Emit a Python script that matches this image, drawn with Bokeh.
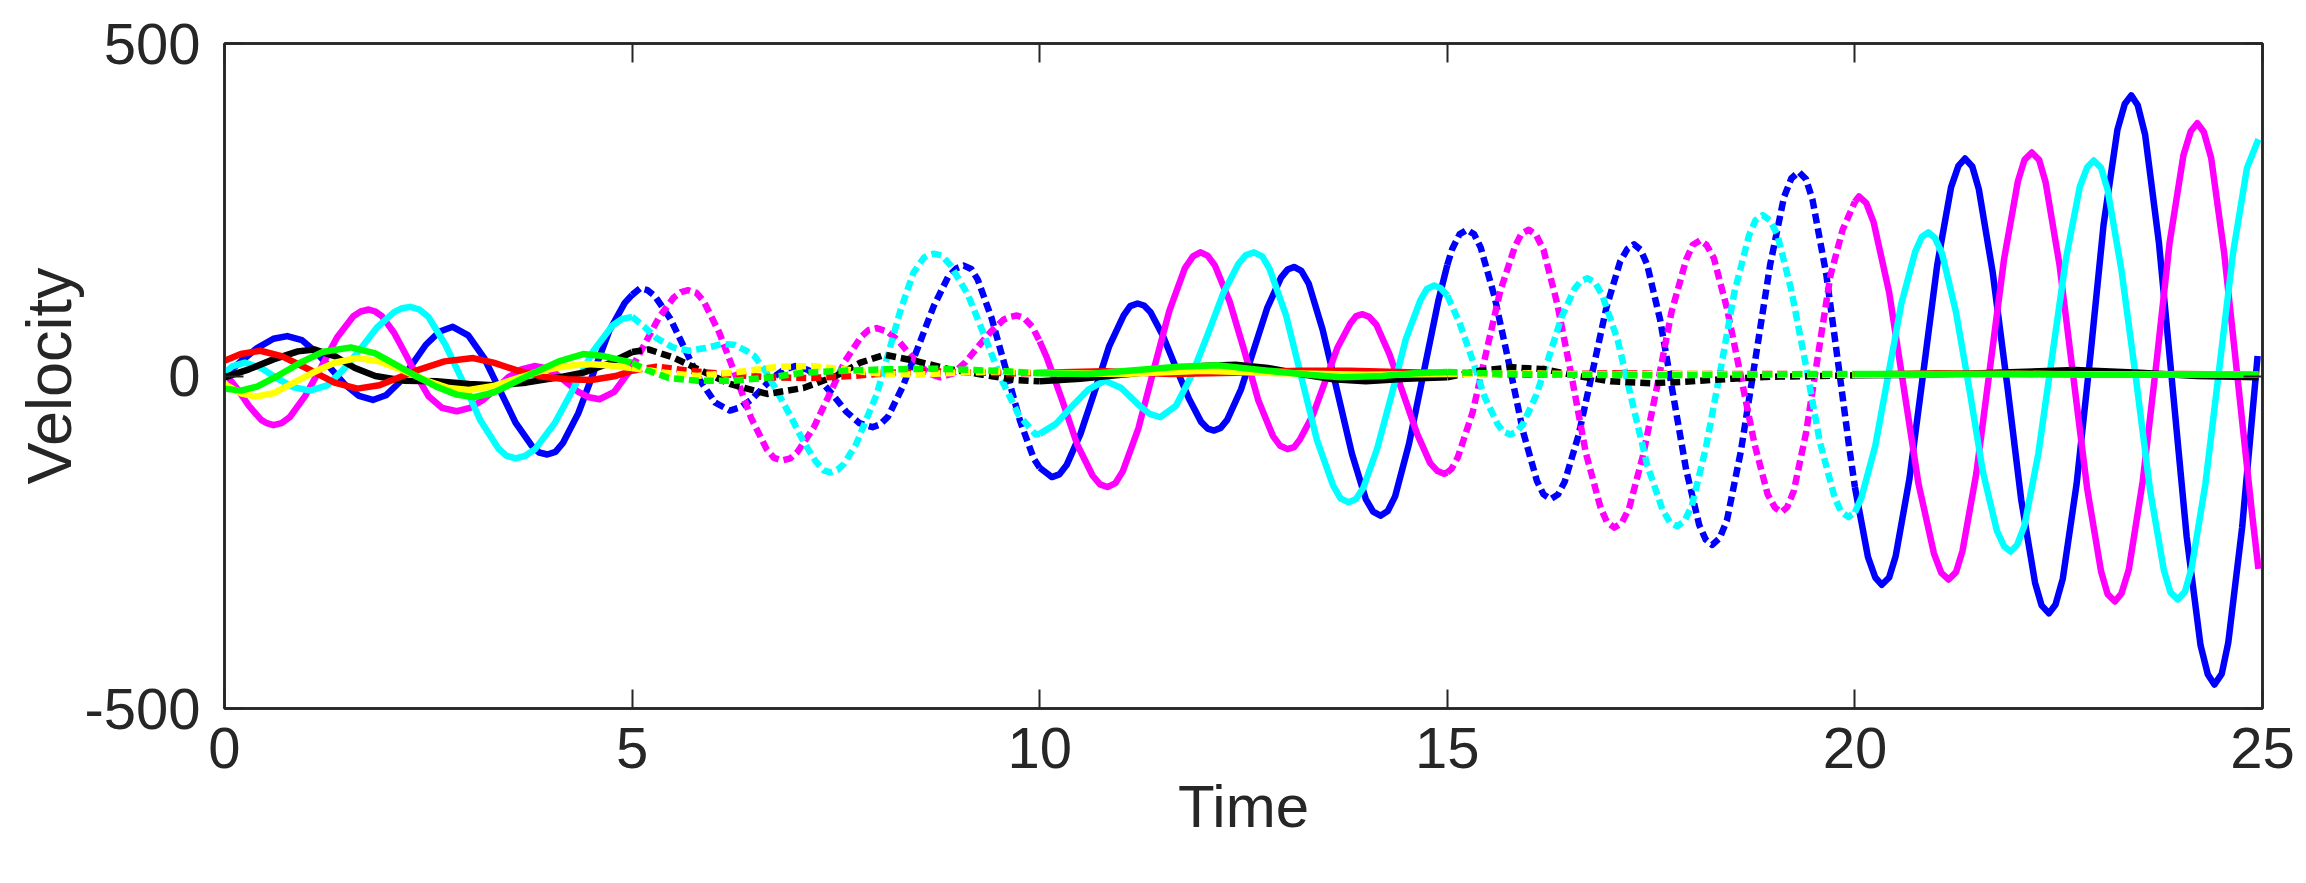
from bokeh.plotting import figure
from bokeh.models import Range1d, LinearAxis, FixedTicker
from bokeh.embed import file_html
from bokeh.resources import INLINE

# ---------------- data ----------------
x_ticks = [0, 5, 10, 15, 20, 25]
y_ticks = [-500, 0, 500]
segment_edges = [0, 5, 10, 15, 20, 25]   # solid / dashed / solid / dashed / solid

blue_t = [0.00, 0.20, 0.40, 0.60, 0.77, 0.95, 1.12, 1.30, 1.47, 1.65, 1.82, 1.98, 2.15, 2.31, 2.47, 2.64, 2.80,
          2.99, 3.19, 3.38, 3.57, 3.77, 3.96, 4.15, 4.34, 4.53, 4.72, 4.91, 5.00,
          5.10, 5.28, 5.47, 5.65, 5.83, 6.02, 6.20, 6.33, 6.47, 6.73, 6.87, 7.00, 7.16, 7.32, 7.48, 7.63,
          7.79, 7.95, 8.14, 8.32, 8.51, 8.70, 8.88, 9.07, 9.24, 9.41, 9.59, 9.76, 9.93, 10.00,
          10.15, 10.33, 10.50, 10.68, 10.85, 11.03, 11.20, 11.36, 11.51, 11.67, 11.83, 11.98, 12.14,
          12.30, 12.47, 12.63, 12.79, 12.96, 13.12, 13.30, 13.47, 13.65, 13.83, 14.00, 14.18, 14.36,
          14.53, 14.71, 14.89, 15.00,
          15.06, 15.24, 15.41, 15.58, 15.76, 15.93, 16.10, 16.27, 16.44, 16.61, 16.78, 16.95, 17.12,
          17.29, 17.45, 17.61, 17.77, 17.93, 18.09, 18.25, 18.43, 18.60, 18.78, 18.96, 19.13, 19.31,
          19.48, 19.65, 19.82, 19.93, 20.00,
          20.16, 20.33, 20.50, 20.67, 20.84, 21.01, 21.18, 21.35, 21.52, 21.69, 21.87, 22.04, 22.21,
          22.38, 22.55, 22.72, 22.89, 23.05, 23.22, 23.39, 23.56, 23.73, 23.90, 24.07, 24.24, 24.41,
          24.58, 24.75, 24.94]
blue_v = [0, 22, 42, 56, 60, 54, 36, 12, -12, -30, -36, -29, -9, 19, 47, 67, 74,
          61, 26, -22, -70, -105, -118, -101, -56, 6, 68, 110, 122,
          132, 120, 86, 40, -6, -40, -52, -47, -35, -2, 10, 15, 9, -8, -31, -54,
          -71, -77, -61, -16, 44, 105, 150, 166, 145, 87, 8, -68, -125, -138,
          -152, -134, -87, -21, 44, 91, 109, 96, 61, 13, -34, -69, -82,
          -66, -20, 41, 102, 148, 164, 139, 70, -23, -117, -185, -210, -181,
          -102, 5, 113, 167,
          191, 220, 193, 119, 17, -84, -158, -185, -159, -89, 6, 102, 172,
          198, 168, 85, -28, -141, -224, -254, -217, -114, 26, 167, 269, 307,
          265, 152, -4, -107, -167,
          -272, -314, -271, -154, 6, 167, 284, 327, 281, 156, -15, -186, -311,
          -357, -305, -162, 32, 227, 370, 422, 363, 200, -21, -242, -405, -464,
          -401, -228, 30]
# points read on the shoulders of each crest / trough
blue_crest_t = [3.86, 4.06, 5.19, 8.04, 8.98, 9.16, 10.24, 11.11, 11.28, 12.06, 12.22, 13.04, 13.21,
                14.09, 14.27, 15.15, 15.33, 16.18, 16.36, 17.21, 17.37, 18.17, 18.34, 19.22, 19.40,
                20.25, 20.42, 21.27, 21.44, 22.29, 22.46, 23.31, 23.47, 24.33, 24.50]
blue_crest_v = [-115, -114, 129, -73, 162, 161, -148, 105, 106, -79, -78, 160, 158,
                -204, -203, 213, 213, -178, -178, 191, 190, -246, -244, 297, 296,
                -303, -303, 316, 315, -345, -344, 409, 407, -449, -448]

magenta_t = [0.00, 0.15, 0.30, 0.45, 0.60, 0.80, 0.99, 1.19, 1.38, 1.58, 1.77, 1.93, 2.08, 2.22, 2.36, 2.50,
             2.67, 2.85, 3.01, 3.17, 3.33, 3.48, 3.64, 3.80, 3.93, 4.07, 4.20, 4.33, 4.47, 4.60, 4.78,
             4.96, 5.00,
             5.15, 5.33, 5.51, 5.69, 5.88, 6.07, 6.27, 6.46, 6.65, 6.84, 7.03, 7.23, 7.42, 7.61, 7.81,
             8.00, 8.13, 8.26, 8.39, 8.52, 8.65, 8.78, 8.94, 9.09, 9.25, 9.41, 9.56, 9.72, 9.91, 10.00,
             10.09, 10.28, 10.46, 10.65, 10.83, 11.02, 11.21, 11.40, 11.59, 11.78, 11.97, 12.15, 12.33,
             12.51, 12.68, 12.86, 13.04, 13.19, 13.35, 13.50, 13.65, 13.81, 13.96, 14.13, 14.29, 14.46,
             14.63, 14.79, 14.96, 15.00,
             15.13, 15.31, 15.48, 15.65, 15.83, 16.00, 16.18, 16.35, 16.53, 16.70, 16.88, 17.05, 17.23,
             17.40, 17.58, 17.75, 17.93, 18.10, 18.27, 18.43, 18.60, 18.77, 18.93, 19.10, 19.25, 19.40,
             19.55, 19.70, 19.85, 20.00,
             20.05, 20.23, 20.42, 20.60, 20.78, 20.97, 21.15, 21.32, 21.49, 21.66, 21.83, 22.00, 22.17,
             22.34, 22.51, 22.68, 22.85, 23.02, 23.19, 23.36, 23.53, 23.70, 23.86, 24.03, 24.20, 24.37,
             24.53, 24.70, 24.87, 24.95]
magenta_v = [5, -18, -45, -66, -74, -62, -30, 14, 58, 90, 100, 90, 65, 33, 0, -30,
             -48, -53, -48, -36, -19, -2, 10, 15, 12, 3, -10, -23, -32, -35, -24,
             6, 13,
             47, 88, 118, 129, 112, 65, 1, -63, -110, -127, -114, -77, -28, 22, 59,
             72, 67, 54, 35, 17, 3, -2, 4, 21, 45, 68, 85, 91, 74, 52,
             27, -38, -103, -150, -167, -143, -79, 10, 98, 162, 186, 166, 112,
             38, -36, -90, -110, -96, -59, -9, 42, 79, 93, 77, 33, -27,
             -87, -131, -147, -145,
             -122, -55, 37, 128, 195, 220, 190, 108, -4, -116, -198, -228, -199,
             -120, -12, 96, 175, 204, 177, 102, 0, -103, -178, -205, -173, -86,
             33, 151, 220, 262,
             270, 231, 126, -18, -162, -267, -306, -263, -146, 15, 176, 293, 336,
             291, 167, -2, -170, -294, -339, -291, -159, 21, 200, 332, 380, 328,
             185, -10, -205, -290]
magenta_crest_t = [0.52, 0.70, 1.67, 1.85, 5.60, 5.79, 6.74, 6.94, 7.90, 9.64, 9.81, 10.74, 10.93,
                   11.88, 12.06, 12.95, 13.12, 13.88, 14.04, 14.88, 15.05, 15.91, 16.09, 16.96, 17.14,
                   18.01, 18.18, 19.02, 19.17, 20.14, 21.06, 21.24, 22.08, 22.26, 23.10, 23.27,
                   24.12, 24.28]
magenta_crest_v = [-71, -71, 97, 97, 126, 125, -123, -124, 69, 89, 87, -163, -161,
                   180, 181, -105, -107, 90, 89, -143, -140, 214, 212, -220, -221,
                   197, 197, -198, -197, 260, -296, -295, 325, 325, -328, -327,
                   368, 367]

cyan_t = [0.00, 0.10, 0.25, 0.45, 0.65, 0.85, 1.05, 1.26, 1.46, 1.67, 1.87, 2.08, 2.28, 2.50, 2.71, 2.93,
          3.14, 3.36, 3.57, 3.81, 4.05, 4.29, 4.52, 4.76, 5.00,
          5.15, 5.30, 5.50, 5.70, 5.90, 6.10, 6.25, 6.40, 6.50, 6.65, 6.80, 6.95, 7.10, 7.25, 7.43,
          7.60, 7.75, 7.90, 8.00, 8.13, 8.29, 8.45, 8.58, 8.70, 8.91, 9.12, 9.33, 9.53, 9.74, 9.95, 10.00,
          10.20, 10.40, 10.60, 10.80, 11.00, 11.20, 11.35, 11.48, 11.67, 11.86, 12.06, 12.25, 12.44,
          12.63, 12.82, 13.02, 13.21, 13.40, 13.60, 13.79, 13.97, 14.14, 14.32, 14.49, 14.67, 14.84, 15.00,
          15.15, 15.31, 15.46, 15.62, 15.77, 15.93, 16.09, 16.25, 16.40, 16.56, 16.72, 16.90, 17.09,
          17.27, 17.45, 17.64, 17.82, 18.00, 18.17, 18.35, 18.52, 18.70, 18.87, 19.05, 19.22, 19.40,
          19.57, 19.75, 19.92, 20.00,
          20.08, 20.25, 20.41, 20.57, 20.74, 20.90, 21.07, 21.24, 21.41, 21.57, 21.74, 21.91, 22.08,
          22.25, 22.42, 22.59, 22.76, 22.93, 23.10, 23.27, 23.45, 23.62, 23.79, 23.96, 24.13, 24.30,
          24.47, 24.64, 24.81, 24.95]
cyan_v = [5, 15, 20, 12, -4, -17, -22, -14, 10, 41, 73, 96, 104, 89, 47, -10,
          -67, -109, -124, -110, -71, -17, 37, 76, 89,
          74, 57, 43, 38, 42, 48, 47, 38, 30, 5, -28, -62, -98, -128, -145,
          -132, -102, -57, -28, 28, 98, 155, 178, 184, 166, 122, 58, -5, -58, -88, -87,
          -72, -45, -20, -7, -18, -42, -57, -62, -45, 0, 62, 124, 169,
          186, 161, 92, -2, -96, -165, -190, -168, -109, -27, 55, 114, 136, 121,
          80, 24, -32, -73, -88, -72, -29, 30, 88, 131, 147, 122, 54,
          -40, -133, -201, -226, -195, -109, 8, 125, 211, 242, 212, 129, 15,
          -99, -182, -212, -205,
          -183, -105, 2, 109, 187, 216, 184, 96, -24, -144, -232, -264, -225,
          -117, 30, 177, 285, 324, 280, 159, -6, -171, -292, -336, -289, -162,
          12, 186, 313, 356]
cyan_crest_t = [2.18, 2.39, 3.46, 3.69, 4.88, 7.35, 7.52, 8.64, 8.80, 12.53, 12.73, 13.69, 13.88,
                14.75, 14.92, 15.69, 15.85, 16.64, 16.81, 17.73, 17.91, 18.78, 18.96, 19.83,
                20.82, 20.98, 21.83, 21.99, 22.85, 23.02, 23.87, 24.05]
cyan_crest_v = [102, 100, -120, -120, 86, -142, -141, 182, 181, 182, 180, -184, -185,
                131, 132, -84, -84, 143, 141, -220, -218, 234, 234, -204,
                209, 208, -256, -254, 314, 313, -325, -324]

black_t = [0.0, 0.3, 0.6, 0.9, 1.1, 1.35, 1.6, 1.85, 2.2, 2.6, 3.0, 3.3, 3.7, 4.1, 4.4, 4.7, 5.0,
           5.2, 5.5, 5.85, 6.2, 6.66, 7.1, 7.5, 7.8, 8.1, 8.5, 8.9, 9.3, 9.7, 10.0,
           10.5, 11.0, 11.5, 12.0, 12.4, 12.8, 13.2, 13.6, 14.0, 14.5, 15.0,
           15.4, 15.8, 16.2, 16.6, 17.0, 17.5, 18.0, 18.5, 19.0, 19.5, 20.0,
           21.0, 22.0, 22.7, 23.5, 24.2, 24.95]
black_v = [-2, 10, 25, 37, 40, 30, 12, 0, -7, -8, -12, -14, -10, -2, 5, 18, 36,
           40, 28, 8, -12, -27, -18, 0, 20, 32, 22, 10, 2, -6, -8,
           -4, 2, 8, 15, 17, 12, 3, -5, -8, -4, -2,
           8, 13, 10, 0, -8, -11, -8, -4, -1, 0, 1,
           2, 6, 9, 5, 0, -2]

red_t = [0.0, 0.2, 0.44, 0.7, 0.9, 1.1, 1.35, 1.63, 1.9, 2.1, 2.35, 2.7, 3.05, 3.3, 3.6, 3.9, 4.2, 4.5,
         4.8, 5.0, 5.3, 5.7, 6.2, 6.7, 7.2, 7.7, 8.2, 8.7, 9.2, 9.7, 10.0,
         10.8, 11.6, 12.4, 13.2, 13.8, 14.4, 15.0, 16.0, 17.0, 18.0, 19.0, 20.0,
         21.0, 22.0, 23.0, 24.0, 24.95]
red_v = [23, 33, 38, 30, 18, 6, -10, -19, -14, -4, 8, 22, 27, 20, 8, -1, -5, -6,
         0, 8, 14, 8, 2, -2, -3, 0, 5, 7, 5, 4, 5,
         7, 3, 5, 8, 8, 6, 4, 2, 4, 3, 3, 2,
         4, 3, 2, 3, 2]

yellow_t = [0.0, 0.2, 0.38, 0.6, 0.85, 1.1, 1.35, 1.63, 1.9, 2.2, 2.5, 2.75, 3.0, 3.3, 3.6, 3.9, 4.2,
            4.45, 4.7, 5.0, 5.4, 5.8, 6.3, 6.8, 7.2, 7.6, 8.0, 8.5, 9.0, 9.5, 10.0,
            11.0, 12.0, 13.0, 14.0, 15.0, 16.0, 17.0, 18.0, 19.0, 20.0, 22.0, 24.0, 24.95]
yellow_v = [-12, -26, -31, -26, -10, 6, 20, 27, 22, 8, -8, -18, -21, -15, -3, 8, 15,
            18, 16, 12, 5, 0, 6, 14, 15, 10, 4, 2, 5, 7, 5,
            3, 8, 4, 2, 3, 4, 2, 3, 2, 2, 3, 2, 2]

green_t = [0.0, 0.2, 0.4, 0.65, 0.93, 1.2, 1.55, 1.85, 2.1, 2.35, 2.6, 2.85, 3.06, 3.3, 3.55, 3.8, 4.1,
           4.4, 4.65, 5.0, 5.2, 5.45, 5.8, 6.25, 6.7, 7.1, 7.6, 8.1, 8.7, 9.2, 9.6, 10.0,
           10.6, 11.2, 11.7, 12.2, 12.8, 13.3, 13.7, 14.2, 14.6, 15.0,
           15.8, 16.5, 17.5, 18.5, 19.5, 20.0, 21.0, 22.0, 23.0, 24.0, 24.95]
green_v = [-19, -22, -16, 0, 20, 36, 43, 34, 17, 0, -16, -28, -32, -25, -10, 5, 22,
           33, 30, 20, 8, -3, -7, -7, -2, 5, 8, 10, 11, 9, 7, 4,
           3, 9, 14, 16, 8, 2, -2, 0, 4, 6,
           3, 2, 1, 2, 3, 3, 3, 3, 2, 2, 2]


def merged(t_main, v_main, t_extra=(), v_extra=()):
    pts = sorted(zip(list(t_main) + list(t_extra), list(v_main) + list(v_extra)))
    return [a for a, _ in pts], [b for _, b in pts]


series = [
    ("#0000FF",) + tuple(merged(blue_t, blue_v, blue_crest_t, blue_crest_v)),
    ("#FF00FF",) + tuple(merged(magenta_t, magenta_v, magenta_crest_t, magenta_crest_v)),
    ("#00FFFF",) + tuple(merged(cyan_t, cyan_v, cyan_crest_t, cyan_crest_v)),
    ("#000000",) + tuple(merged(black_t, black_v)),
    ("#FF0000",) + tuple(merged(red_t, red_v)),
    ("#FFFF00",) + tuple(merged(yellow_t, yellow_v)),
    ("#00FF00",) + tuple(merged(green_t, green_v)),
]

# ---------------- figure ----------------
AX = "#262626"
FONT = "Liberation Sans"

p = figure(frame_width=2038, frame_height=665, output_backend="svg", toolbar_location=None,
           x_range=Range1d(0, 25), y_range=Range1d(-500, 500),
           x_axis_location=None, y_axis_location=None,
           min_border_left=224, min_border_right=40, min_border_top=43, min_border_bottom=172)
p.xgrid.visible = False
p.ygrid.visible = False
p.background_fill_color = "white"
p.border_fill_color = "white"
p.outline_line_color = AX
p.outline_line_width = 2.5
p.outline_line_alpha = 1.0


def style_axis(ax, show_labels):
    ax.major_tick_in = 19
    ax.major_tick_out = 0
    ax.minor_tick_line_color = None
    ax.axis_line_color = AX
    ax.axis_line_width = 2.5
    ax.major_tick_line_color = AX
    ax.major_tick_line_width = 2
    if show_labels:
        ax.major_label_text_font = FONT
        ax.major_label_text_font_size = "58px"
        ax.major_label_text_color = AX
        ax.axis_label_text_font = FONT
        ax.axis_label_text_font_style = "normal"
        ax.axis_label_text_color = AX
    else:
        ax.major_label_text_font_size = "0px"


xb = LinearAxis(ticker=FixedTicker(ticks=x_ticks), axis_label="Time")
style_axis(xb, True)
xb.axis_label_text_font_size = "60px"
xb.major_label_overrides = {t: str(t) for t in x_ticks}
xb.major_label_standoff = 19
xb.axis_label_standoff = 2
p.add_layout(xb, "below")

yl = LinearAxis(ticker=FixedTicker(ticks=y_ticks), axis_label="Velocity")
style_axis(yl, True)
yl.axis_label_text_font_size = "63px"
yl.major_label_overrides = {t: str(t) for t in y_ticks}
yl.major_label_standoff = 24
yl.axis_label_standoff = -3
p.add_layout(yl, "left")

xt = LinearAxis(ticker=FixedTicker(ticks=x_ticks))
style_axis(xt, False)
xt.major_label_overrides = {t: "" for t in x_ticks}
p.add_layout(xt, "above")

yr = LinearAxis(ticker=FixedTicker(ticks=y_ticks))
style_axis(yr, False)
yr.major_label_overrides = {t: "" for t in y_ticks}
p.add_layout(yr, "right")

# ---------------- lines: one per colour per 5-second segment ----------------
for k in range(len(segment_edges) - 1):
    lo, hi = segment_edges[k], segment_edges[k + 1]
    dashed = (k % 2 == 1)
    for color, ts, vs in series:
        seg_t = [t for t in ts if lo <= t <= hi]
        seg_v = [v for t, v in zip(ts, vs) if lo <= t <= hi]
        if dashed:
            p.line(seg_t, seg_v, line_color=color, line_width=6.5, line_dash="10 5",
                   line_join="round")
        else:
            p.line(seg_t, seg_v, line_color=color, line_width=6.5, line_join="round")

open("out.html", "w").write(file_html(p, INLINE))
